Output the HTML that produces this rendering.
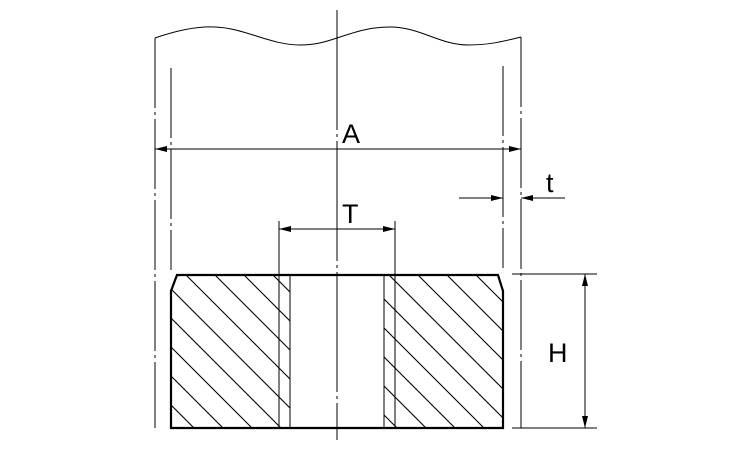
<!DOCTYPE html>
<html><head><style>body{margin:0;background:#fff}svg{display:block}</style></head><body>
<svg width="750" height="450" viewBox="0 0 750 450" xmlns="http://www.w3.org/2000/svg" font-family="Liberation Sans, sans-serif">
<defs>
<pattern id="h" patternUnits="userSpaceOnUse" x="0" y="2" width="29" height="29">
<path d="M-2,-2 L31,31 M-2,27 L2,31 M27,-2 L31,2" stroke="#000" stroke-width="1.1" fill="none"/>
</pattern>
<marker id="a" markerWidth="12" markerHeight="8" refX="12" refY="4" orient="auto" markerUnits="userSpaceOnUse"><path d="M0,1 L12,4 L0,7 Z" fill="#000"/></marker>
<clipPath id="c"><path d="M177,275 L290,275 L290,428 L171,428 L171,291 Z M384,275 L498,275 L503,291 L503,428 L384,428 Z"/></clipPath>
</defs>
<g stroke="#000" fill="none" stroke-width="1">
<path d="M155,38 C175,31 195,26 215,27 C245,28 270,45 300,45 C315,45 325,42 337,38 C355,32 370,27 390,27 C420,27 440,45 468,45 C490,45 505,41 521,37"/>
<line x1="155" y1="38" x2="155" y2="428" stroke-dasharray="70,4,3,4"/>
<line x1="521" y1="37" x2="521" y2="428" stroke-dasharray="70,4,3,4"/>
<line x1="171" y1="68" x2="171" y2="270" stroke-dasharray="70,4,3,4"/>
<line x1="503" y1="66" x2="503" y2="268" stroke-dasharray="70,4,3,4"/>
<line x1="337" y1="10" x2="337" y2="440" stroke-dasharray="120,4,3,4"/>
<line x1="279" y1="221" x2="279" y2="275"/>
<line x1="395" y1="221" x2="395" y2="275"/>
<line x1="337" y1="149" x2="155" y2="149" marker-end="url(#a)"/>
<line x1="337" y1="149" x2="521" y2="149" marker-end="url(#a)"/>
<line x1="337" y1="229" x2="279" y2="229" marker-end="url(#a)"/>
<line x1="337" y1="229" x2="395" y2="229" marker-end="url(#a)"/>
<line x1="459" y1="198" x2="503" y2="198" marker-end="url(#a)"/>
<line x1="565" y1="198" x2="521" y2="198" marker-end="url(#a)"/>
<line x1="512" y1="274" x2="597" y2="274"/>
<line x1="512" y1="428" x2="597" y2="428"/>
<line x1="585" y1="351" x2="585" y2="274" marker-end="url(#a)"/>
<line x1="585" y1="351" x2="585" y2="428" marker-end="url(#a)"/>
<rect x="150" y="260" width="380" height="180" fill="url(#h)" stroke="none" clip-path="url(#c)"/>
<line x1="279" y1="275" x2="279" y2="428"/>
<line x1="395" y1="275" x2="395" y2="428"/>
<line x1="290" y1="275" x2="290" y2="428"/>
<line x1="384" y1="275" x2="384" y2="428"/>
<path d="M171,428 L171,291 L177,275 L498,275 L503,291 L503,428 Z" stroke-width="2.2"/>
</g>
<g font-size="27" fill="#000">
<text x="342" y="143">A</text>
<text x="342" y="223">T</text>
<text x="546" y="192">t</text>
<text x="548" y="362">H</text>
</g>
</svg>
</body></html>
